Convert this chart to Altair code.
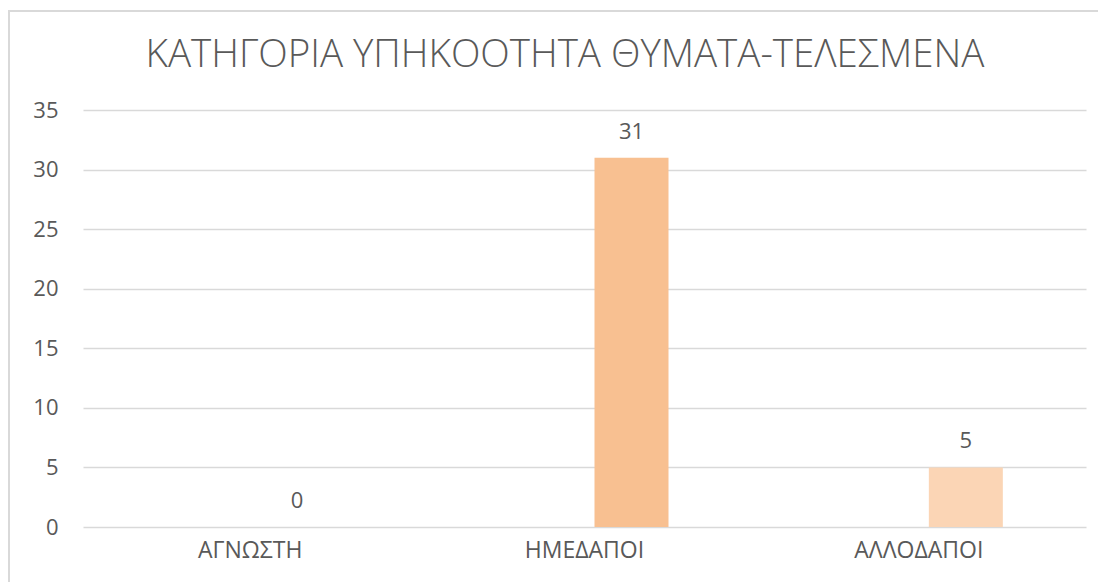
import altair as alt
import pandas as pd

categories = ["ΑΓΝΩΣΤΗ", "ΗΜΕΔΑΠΟΙ", "ΑΛΛΟΔΑΠΟΙ"]
values = [0, 31, 5]
colors = ["#F4B183", "#F8C091", "#FBD5B5"]
y_ticks = [0, 5, 10, 15, 20, 25, 30, 35]
title_text = "ΚΑΤΗΓΟΡΙΑ ΥΠΗΚΟΟΤΗΤΑ ΘΥΜΑΤΑ-ΤΕΛΕΣΜΕΝΑ"

df = pd.DataFrame({"cat": categories, "val": values})

FONT = "Open Sans"
GRAY = "#595959"
FS = 22

x = alt.X(
    "cat:N",
    sort=categories,
    scale=alt.Scale(paddingInner=0, paddingOuter=0),
    axis=alt.Axis(title=None, labelAngle=0, domain=False, ticks=False,
                  labelFontSize=23, labelColor=GRAY, labelFont=FONT,
                  labelPadding=12, grid=False),
)
y = alt.Y(
    "val:Q",
    scale=alt.Scale(domain=[0, 35], nice=False),
    axis=alt.Axis(title=None, values=y_ticks, domain=False, ticks=False,
                  labelFontSize=FS, labelColor=GRAY, labelFont=FONT,
                  labelPadding=25, gridColor="#D9D9D9", gridWidth=1.5),
)

base = alt.Chart(df)

bars = base.mark_bar(width=74, xOffset=47).encode(
    x=x, y=y,
    color=alt.Color("cat:N", scale=alt.Scale(domain=categories, range=colors), legend=None),
)

labels = base.mark_text(xOffset=47, dy=-19, baseline="alphabetic",
                        fontSize=FS, font=FONT, color=GRAY).encode(
    x=alt.X("cat:N", sort=categories), y=alt.Y("val:Q"), text=alt.Text("val:Q")
)

title_df = pd.DataFrame({"t": [title_text]})
title = alt.Chart(title_df).mark_text(
    fontSize=38.5, font=FONT, fontWeight=300, color=GRAY,
    align="center", baseline="alphabetic"
).encode(x=alt.value(482), y=alt.value(-43), text="t:N")

border_df = pd.DataFrame({"k": [0]})
top_border = alt.Chart(border_df).mark_rule(color="#D9D9D9", strokeWidth=2).encode(
    x=alt.value(-75), x2=alt.value(1030), y=alt.value(-99)
)
left_border = alt.Chart(border_df).mark_rule(color="#D9D9D9", strokeWidth=2).encode(
    x=alt.value(-74), y=alt.value(-99), y2=alt.value(480)
)

chart = alt.layer(top_border, left_border, title, bars, labels).properties(
    width=1003,
    height=417,
    autosize=alt.AutoSizeParams(type="none"),
    padding={"left": 75, "top": 102, "right": 12, "bottom": 55},
).configure_view(stroke=None)

chart.save("out.html", embed_options={"renderer": "svg", "actions": False})
